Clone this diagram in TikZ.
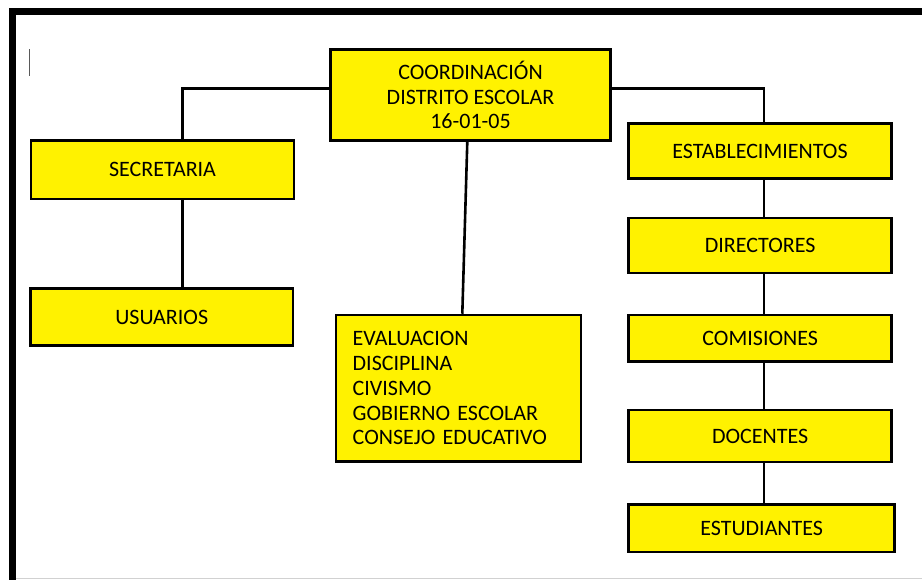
\documentclass[tikz,border=0pt]{standalone}
\usepackage{fontspec}
\setmainfont{Carlito}
\usepackage{tikz}

\begin{document}
\begin{tikzpicture}[x=1pt,y=-1pt,
  caja/.style={draw=black, fill=yellow, line width=2.6pt, inner sep=0pt,
    font=\fontsize{22}{24.7}\selectfont, align=center},
  linea/.style={black, line width=2.6pt}]
\useasboundingbox (0,0) rectangle (922,579);
\draw [line width=7pt] (12.7,590) -- (12.7,11.2) -- (930,11.2);
\draw [black!18, line width=1pt] (16,578.3) -- (922,578.3);
\draw [black!65, line width=0.8pt] (29.5,49) -- (29.5,75.5);
\node [caja, minimum width=280, minimum height=91] (coord) at (470.5,95)
  {COORDINACIÓN\\DISTRITO ESCOLAR\\16-01-05};
\node [caja, minimum width=263, minimum height=58.5] (secre) at (162.5,169.7) {SECRETARIA};
\node [caja, minimum width=262.5, minimum height=57.5] (usua) at (161.7,317) {USUARIOS};
\node [caja, text width=211.6, minimum height=146.5, inner xsep=16.7pt, align=left] (lista) at (458.5,388.3)
  {EVALUACION\\DISCIPLINA\\CIVISMO\\GOBIERNO ESCOLAR\\CONSEJO EDUCATIVO};
\node [caja, minimum width=262.5, minimum height=54.5] (estab) at (760,151) {ESTABLECIMIENTOS};
\node [caja, minimum width=263, minimum height=55] (direc) at (760.2,245.3) {DIRECTORES};
\node [caja, minimum width=263, minimum height=46.5] (comis) at (760.2,338.3) {COMISIONES};
\node [caja, minimum width=263, minimum height=52] (docen) at (760.2,436) {DOCENTES};
\node [caja, minimum width=266, minimum height=47.5] (estud) at (761.7,528.2) {ESTUDIANTES};
\coordinate (jl) at (182.7,88.3);
\coordinate (jr) at (764,88.3);
\draw [linea] (coord.west |- jl) -- (jl) -- (jl |- secre.north);
\draw [linea] (jl |- secre.south) -- (jl |- usua.north);
\draw [linea] (coord.east |- jr) -- (jr) -- (jr |- estab.north);
\draw [linea] ([xshift=-3.2pt]coord.south) -- ([xshift=3.8pt]lista.north);
\foreach \a/\b in {estab/direc, direc/comis, comis/docen, docen/estud}
  \draw [linea] (jr |- \a.south) -- (jr |- \b.north);
\end{tikzpicture}
\end{document}
